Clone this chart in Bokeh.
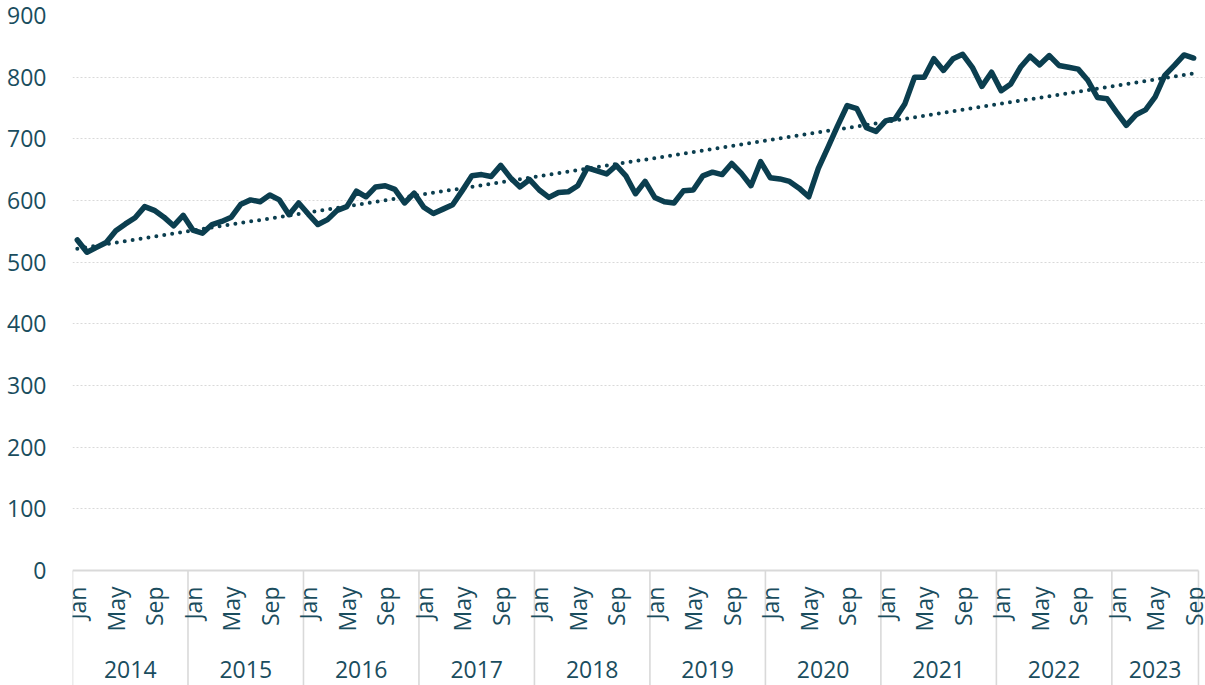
import math
import numpy as np
from bokeh.plotting import figure
from bokeh.models import Range1d, FixedTicker, Span
from bokeh.core.properties import value
from bokeh.embed import file_html
from bokeh.resources import INLINE

# ---- data ----
years = ["2014", "2015", "2016", "2017", "2018", "2019", "2020", "2021", "2022", "2023"]
months = ["Jan", "Feb", "Mar", "Apr", "May", "Jun", "Jul", "Aug", "Sep", "Oct", "Nov", "Dec"]
shown_months = ["Jan", "May", "Sep"]

v2014 = [536, 516, 524, 532, 551, 562, 572, 590, 584, 573, 559, 576]
v2015 = [552, 547, 561, 566, 573, 594, 601, 598, 609, 601, 577, 596]
v2016 = [578, 561, 569, 584, 590, 615, 606, 622, 624, 618, 596, 612]
v2017 = [589, 579, 586, 593, 616, 640, 642, 639, 657, 637, 622, 634]
v2018 = [617, 605, 613, 614, 624, 653, 648, 643, 657, 640, 611, 631]
v2019 = [605, 598, 596, 616, 617, 640, 646, 642, 660, 644, 624, 663]
v2020 = [637, 635, 631, 620, 606, 652, 686, 721, 754, 749, 718, 712]
v2021 = [729, 733, 757, 800, 800, 830, 811, 830, 837, 816, 785, 808]
v2022 = [778, 789, 816, 834, 820, 835, 819, 816, 813, 795, 767, 765]
v2023 = [743, 722, 739, 747, 768, 803, 819, 836, 831]
series = [v2014, v2015, v2016, v2017, v2018, v2019, v2020, v2021, v2022, v2023]

y_ticks = [0, 100, 200, 300, 400, 500, 600, 700, 800, 900]

# ---- styles ----
LINE_COLOR = "#0b3e4f"
TEXT_COLOR = "#1a4d5e"
GRID_COLOR = "#d9d9d9"
FONT = "Open Sans"
FONT_SIZE = "23px"

# ---- flatten ----
xs, vals, mon_lbl = [], [], []
year_start, year_end = [], []
i = 0
for yr, vs in zip(years, series):
    year_start.append(i)
    for m, v in zip(months, vs):
        xs.append(i)
        vals.append(v)
        mon_lbl.append(m)
        i += 1
    year_end.append(i - 1)
n = len(vals)
xs = np.array(xs, dtype=float)
vals_arr = np.array(vals, dtype=float)

coef = np.polyfit(xs, vals_arr, 1)
trend = np.polyval(coef, xs)

Y_MAX = 900
Y_MIN = -186.5
MONTH_Y = -26
YEAR_Y = -160

p = figure(width=1205, height=685, output_backend="svg", toolbar_location=None,
           x_range=Range1d(-0.5, n - 0.5 + 0.73), y_range=Range1d(Y_MIN, Y_MAX),
           x_axis_type=None, min_border_left=72, min_border_right=0,
           min_border_top=15, min_border_bottom=0)
p.outline_line_color = None
p.background_fill_color = "white"
p.border_fill_color = "white"
p.xgrid.visible = False
p.ygrid.ticker = FixedTicker(ticks=y_ticks[1:])
p.ygrid.grid_line_color = GRID_COLOR
p.ygrid.grid_line_dash = "2 2"
p.ygrid.grid_line_width = 1.2

p.yaxis.ticker = FixedTicker(ticks=y_ticks)
p.yaxis.axis_line_color = None
p.yaxis.major_tick_line_color = None
p.yaxis.minor_tick_line_color = None
p.yaxis.major_tick_out = 0
p.yaxis.major_tick_in = 0
p.yaxis.minor_tick_out = 0
p.yaxis.major_label_standoff = 26
p.yaxis.major_label_text_font = FONT
p.yaxis.major_label_text_font_size = FONT_SIZE
p.yaxis.major_label_text_color = TEXT_COLOR

# separators between years (category axis style)
sep_x = [s - 0.5 for s in year_start] + [n - 0.5]
p.segment(x0=sep_x, y0=[0] * len(sep_x), x1=sep_x, y1=[Y_MIN] * len(sep_x),
          line_color=GRID_COLOR, line_width=1.6)
# axis line at zero (from first to last category edge)
p.segment(x0=[sep_x[0]], y0=[0], x1=[sep_x[-1]], y1=[0], line_color=GRID_COLOR, line_width=2)

# main series
p.line(xs, vals_arr, line_color=LINE_COLOR, line_width=5.5, line_join="round", line_cap="round")
# linear trend
p.line(xs, trend, line_color=LINE_COLOR, line_width=4, line_dash="0 8", line_cap="round")

# month labels
mx = [x for x, m in zip(xs, mon_lbl) if m in shown_months]
mt = [m for m in mon_lbl if m in shown_months]
p.text(x=mx, y=[MONTH_Y] * len(mx), text=mt, angle=math.pi / 2,
       text_align="right", text_baseline="middle",
       text_font=value(FONT), text_font_size=FONT_SIZE, text_color=TEXT_COLOR)

# year labels
yx = [(s + e) / 2 for s, e in zip(year_start, year_end)]
p.text(x=yx, y=[YEAR_Y] * len(yx), text=years,
       text_align="center", text_baseline="middle",
       text_font=value(FONT), text_font_size=FONT_SIZE, text_color=TEXT_COLOR)

open("out.html", "w").write(file_html(p, INLINE))
